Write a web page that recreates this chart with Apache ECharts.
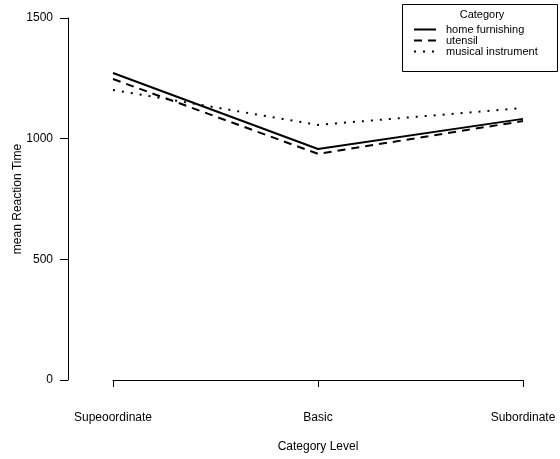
<!DOCTYPE html>
<html><head><meta charset="utf-8">
<script src="https://cdn.jsdelivr.net/npm/echarts@6/dist/echarts.min.js"></script>
<style>html,body{margin:0;padding:0;background:#fff}#c{width:560px;height:459px}</style>
</head><body><div id="c"></div>
<script>
const categories = ['Supeoordinate', 'Basic', 'Subordinate'];
const homeFurnishing = [1272, 957, 1082];
const utensil = [1247, 937, 1073];
const musicalInstrument = [1202, 1057, 1127];
const yTicks = [0, 500, 1000, 1500];

const font = 'Liberation Sans, Arial, sans-serif';
const chart = echarts.init(document.getElementById('c'));
function s(name, data, dash) {
  return {
    name, type: 'line', data, symbol: 'none', showSymbol: false, animation: false,
    lineStyle: { color: '#000', width: 2, type: dash },
    itemStyle: { color: '#000' }
  };
}
chart.setOption({
  backgroundColor: '#fff',
  grid: { left: 113, right: 37, top: 18, bottom: 79, outerBoundsMode: 'none', containLabel: false },
  xAxis: {
    type: 'category', data: categories, boundaryGap: false, offset: 17,
    axisLine: { lineStyle: { color: '#000', width: 1 } },
    axisTick: { length: 7, lineStyle: { color: '#000' }, alignWithLabel: true },
    axisLabel: { color: '#000', fontSize: 12, fontFamily: font, margin: 15, interval: 0 },
    name: 'Category Level', nameLocation: 'middle', nameGap: 44, nameMoveOverlap: false,
    nameTextStyle: { color: '#000', fontSize: 12, fontFamily: font }
  },
  yAxis: {
    type: 'value', min: yTicks[0], max: yTicks[yTicks.length - 1], interval: 500, offset: 45,
    axisLine: { show: true, lineStyle: { color: '#000', width: 1 } },
    axisTick: { show: true, length: 8, lineStyle: { color: '#000' } },
    splitLine: { show: false },
    axisLabel: { color: '#000', fontSize: 12, fontFamily: font, margin: 15, formatter: v => String(v) },
    name: 'mean Reaction Time', nameLocation: 'middle', nameGap: 44, nameRotate: 90, nameMoveOverlap: false,
    nameTextStyle: { color: '#000', fontSize: 12, fontFamily: font }
  },
  legend: {
    orient: 'vertical', left: 413, top: 24, itemWidth: 22, itemHeight: 13.5, itemGap: 0, padding: 0,
    itemStyle: { opacity: 0 },
    textStyle: { color: '#000', fontSize: 11, fontFamily: font, padding: [0, 0, 0, 5] },
    data: ['home furnishing', 'utensil', 'musical instrument'],
    selectedMode: false
  },
  graphic: [
    { type: 'rect', shape: { x: 402.5, y: 4.5, width: 155, height: 67 },
      style: { fill: 'none', stroke: '#000', lineWidth: 1 } },
    { type: 'text', style: { x: 482, y: 15, text: 'Category', textAlign: 'center', textVerticalAlign: 'middle',
      fontSize: 11, fontFamily: font, fill: '#000' } }
  ],
  series: [
    s('home furnishing', homeFurnishing, 'solid'),
    s('utensil', utensil, [8, 6]),
    s('musical instrument', musicalInstrument, [2, 7])
  ]
});
</script></body></html>
